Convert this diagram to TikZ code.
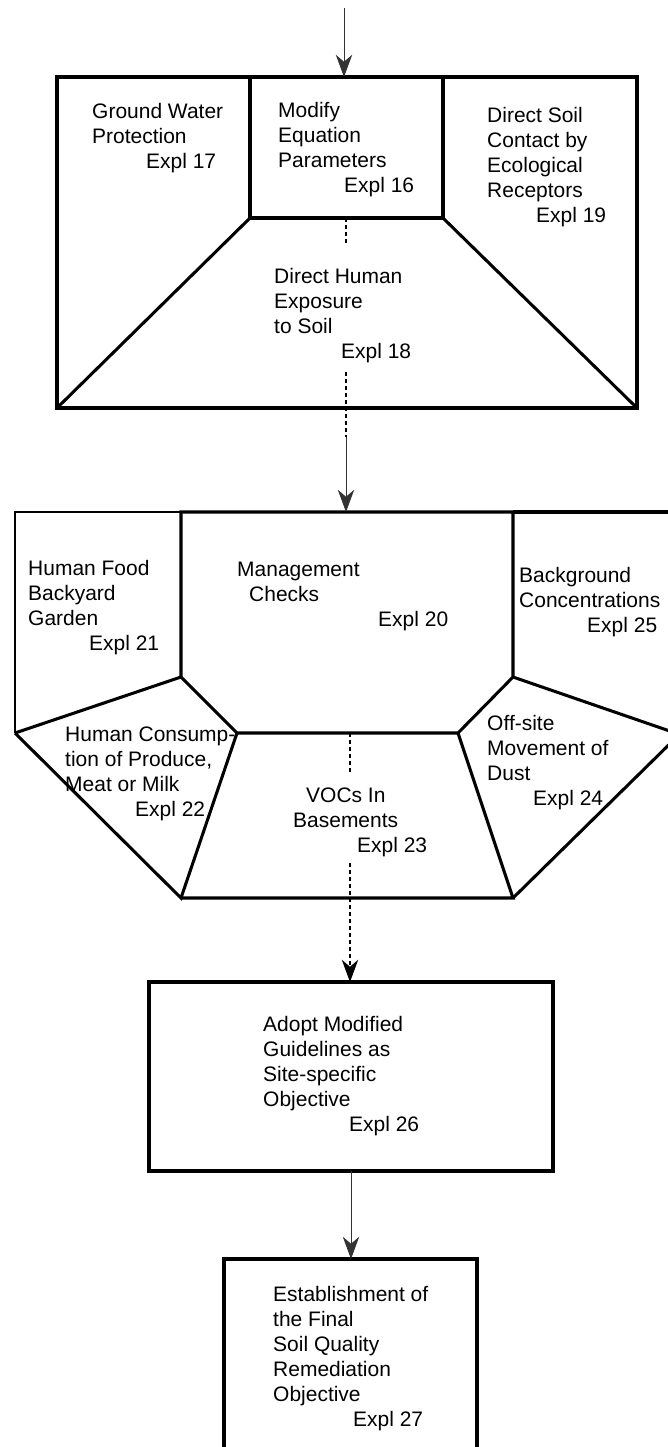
\documentclass[tikz,border=0pt]{standalone}
\usepackage{fontspec}
\setmainfont{Liberation Sans}
\usetikzlibrary{arrows.meta}
\tikzset{
  wall/.style={draw=black, line width=2.6pt, line join=miter},
  rim/.style={draw=black, line width=2pt},
  flow/.style={draw=black!80, line width=0.8pt, -{Stealth[length=19pt, width=14pt, inset=6pt]}},
  trail/.style={draw=black, line width=1.1pt, dash pattern=on 3pt off 3pt},
  lab/.style={anchor=north west, inner sep=0pt, align=left, font=\fontsize{17.9}{21.3}\selectfont},
}
\begin{document}
\begin{tikzpicture}[x=0.03cm, y=-0.03cm]
\useasboundingbox (0,0) rectangle (668,1447);

% stage 1
\coordinate (in) at (344,8);
\coordinate (s1top) at (344,77);
\draw[wall] (57,77) rectangle (637,408);
\draw[wall] (250,77) -- (250,218) -- (443,218) -- (443,77);
\draw[wall] (250,218) -- (57,408);
\draw[wall] (443,218) -- (637,408);
\coordinate (p16) at (346,218);
\coordinate (d1) at (346,243);
\coordinate (d2) at (346,372);
\coordinate (d3) at (346,437);
\coordinate (s2top) at (346,512);

\node[lab] (gw) at (92,103) {Ground Water\\Protection\\\hspace*{1.62cm}Expl 17};
\node[lab] (mod) at (278,102) {Modify\\Equation\\Parameters\\\hspace*{1.98cm}Expl 16};
\node[lab] (eco) at (487,107) {Direct Soil\\Contact by\\Ecological\\Receptors\\\hspace*{1.47cm}Expl 19};
\node[lab] (hum) at (274,268) {Direct Human\\Exposure\\to Soil\\\hspace*{2.01cm}Expl 18};

% stage 2
\draw[rim] (15,733) -- (15,512) -- (181,512);
\draw[wall] (15,733) -- (181,677);
\draw[wall] (181,512) -- (513,512) -- (513,677) -- (458,733) -- (237,733) -- (181,677) -- cycle;
\draw[wall] (513,512) -- (690,512);
\draw[wall] (513,677) -- (690,738);
\draw[wall] (15,733) -- (181,898) -- (237,733);
\draw[wall] (181,898) -- (513,898) -- (458,733);
\draw[wall] (513,898) -- (690,724);
\coordinate (p23) at (350,733);
\coordinate (d4) at (350,773);
\coordinate (d5) at (350,863);

\node[lab] (food) at (28,560) {Human Food\\Backyard\\Garden\\\hspace*{1.83cm}Expl 21};
\node[lab] (mgmt) at (237,562) {Management\\\hspace*{0.36cm}Checks\\\hspace*{4.23cm}Expl 20};
\node[lab] (bkg) at (519,567) {Background\\Concentrations\\\hspace*{2.04cm}Expl 25};
\node[lab] (cons) at (65,727) {Human Consump-\\tion of Produce,\\Meat or Milk\\\hspace*{2.1cm}Expl 22};
\node[lab] (voc) at (293,788) {\hspace*{0.39cm}VOCs In\\Basements\\\hspace*{1.92cm}Expl 23};
\node[lab] (dust) at (487,715) {Off-site\\Movement of\\Dust\\\hspace*{1.38cm}Expl 24};

% stage 3
\draw[wall] (149,982) rectangle (553,1171);
\coordinate (s3top) at (350,982);
\coordinate (s3bot) at (351,1171);
\node[lab] (adopt) at (263,1016) {Adopt Modified\\Guidelines as\\Site-specific\\Objective\\\hspace*{2.58cm}Expl 26};

% stage 4
\draw[wall] (224,1470) -- (224,1259) -- (477,1259) -- (477,1470);
\coordinate (s4top) at (351,1259);
\node[lab] (final) at (273,1286) {Establishment of\\the Final\\Soil Quality\\Remediation\\Objective\\\hspace*{2.4cm}Expl 27};

% links
\draw[flow] (in) -- (s1top);
\draw[trail] (p16) -- (d1);
\draw[trail] (d2) -- (d3);
\draw[flow] (d3) -- (s2top);
\draw[trail] (p23) -- (d4);
\draw[flow, trail] (d5) -- (s3top);
\draw[flow] (s3bot) -- (s4top);
\end{tikzpicture}
\end{document}
